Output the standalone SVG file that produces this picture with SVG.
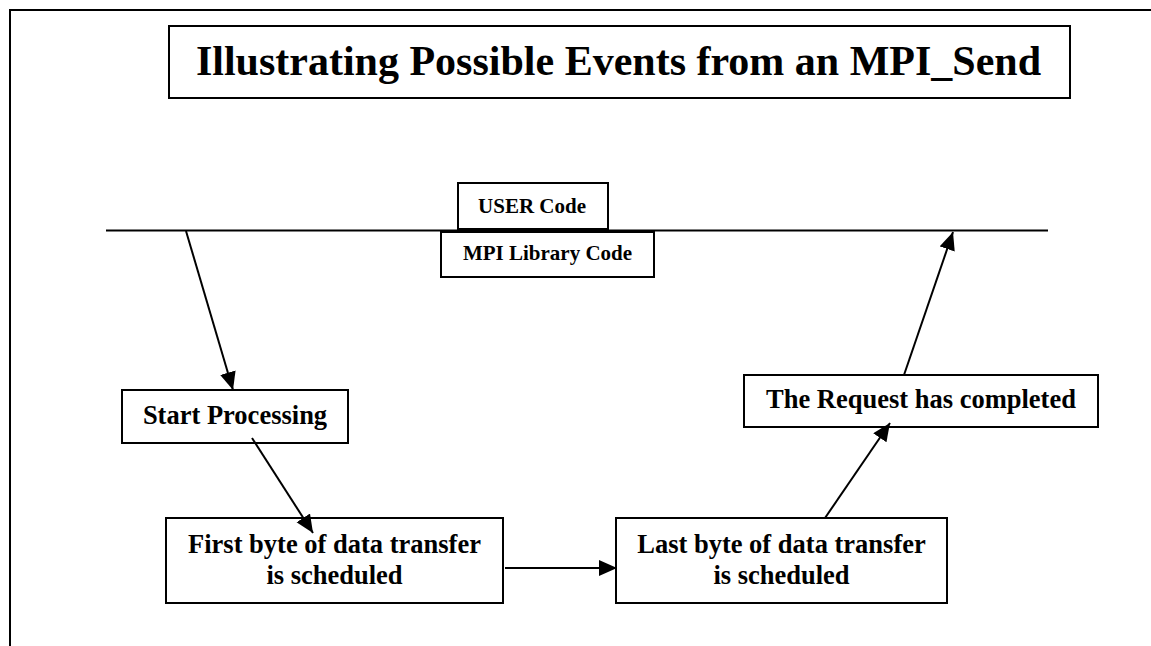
<svg xmlns="http://www.w3.org/2000/svg" width="1151" height="646" viewBox="0 0 1151 646">
  <style>
    .box { fill: #ffffff; stroke: #000000; stroke-width: 2; }
    .txt { font-weight: bold; fill: #000000; text-anchor: middle; }
    .body { font-size: 26.5px; }
    .small { font-size: 21px; }
    .title { font-size: 42px; }
    .wire { stroke: #000000; stroke-width: 2; fill: none; }
  </style>
  <defs>
    <marker id="head" markerUnits="userSpaceOnUse" markerWidth="20" markerHeight="18" refX="18" refY="8" orient="auto">
      <path d="M0,0 L18,8 L0,16 z" fill="#000000"/>
    </marker>
  </defs>

  <rect width="1151" height="646" fill="#ffffff"/>

  <!-- page frame (open on the right and bottom) -->
  <g id="frame">
    <path class="wire" d="M10,646 V10 H1151"/>
  </g>

  <g font-family="Liberation Serif, DejaVu Serif, serif">
    <!-- title -->
    <g id="title">
      <rect class="box" x="169" y="26" width="901" height="72"/>
      <text class="txt title" x="618.5" y="75">Illustrating Possible Events from an MPI_Send</text>
    </g>

    <!-- boundary between user code and library code -->
    <g id="boundary">
      <line class="wire" x1="106" y1="230.5" x2="1048" y2="230.5"/>
    </g>

    <g id="user-code">
      <rect class="box" x="458" y="183" width="150" height="46"/>
      <text class="txt small" x="532" y="213">USER Code</text>
    </g>

    <g id="mpi-library-code">
      <rect class="box" x="441" y="232" width="213" height="45"/>
      <text class="txt small" x="547.5" y="260">MPI Library Code</text>
    </g>

    <g id="start-processing">
      <rect class="box" x="122" y="390" width="226" height="53"/>
      <text class="txt body" x="235" y="424">Start Processing</text>
    </g>

    <g id="first-byte">
      <rect class="box" x="166" y="518" width="337" height="85"/>
      <text class="txt body" x="334.5" y="553">First byte of data transfer</text>
      <text class="txt body" x="334.5" y="584">is scheduled</text>
    </g>

    <g id="last-byte">
      <rect class="box" x="616" y="518" width="331" height="85"/>
      <text class="txt body" x="781.5" y="553">Last byte of data transfer</text>
      <text class="txt body" x="781.5" y="584">is scheduled</text>
    </g>

    <g id="request-completed">
      <rect class="box" x="744" y="375" width="354" height="52"/>
      <text class="txt body" x="921" y="408">The Request has completed</text>
    </g>
  </g>

  <!-- connectors -->
  <g id="connectors">
    <line class="wire" x1="186" y1="231" x2="233" y2="390" marker-end="url(#head)"/>
    <line class="wire" x1="252" y1="438" x2="313" y2="533" marker-end="url(#head)"/>
    <line class="wire" x1="505" y1="568" x2="617" y2="568" marker-end="url(#head)"/>
    <line class="wire" x1="825" y1="518" x2="890" y2="423" marker-end="url(#head)"/>
    <line class="wire" x1="904" y1="375" x2="953" y2="232" marker-end="url(#head)"/>
  </g>
</svg>
